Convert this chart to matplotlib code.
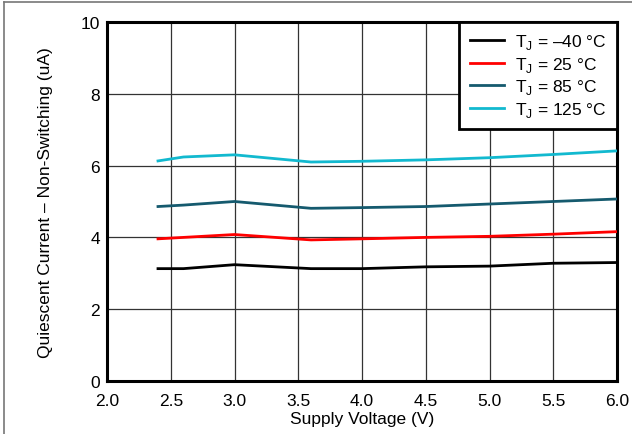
import matplotlib
matplotlib.use("Agg")
import matplotlib.pyplot as plt
from matplotlib.lines import Line2D

plt.rcParams['font.family'] = ['Liberation Sans', 'DejaVu Sans']
plt.rcParams['mathtext.fontset'] = 'custom'
plt.rcParams['mathtext.rm'] = 'Liberation Sans'

voltage = [2.4, 2.6, 3.0, 3.6, 4.0, 4.5, 5.0, 5.5, 6.0]
iq_m40 = [3.13, 3.13, 3.24, 3.13, 3.13, 3.18, 3.20, 3.28, 3.30]
iq_25 = [3.96, 4.00, 4.08, 3.93, 3.96, 4.00, 4.03, 4.09, 4.16]
iq_85 = [4.86, 4.90, 5.00, 4.81, 4.83, 4.86, 4.93, 5.00, 5.07]
iq_125 = [6.13, 6.24, 6.30, 6.10, 6.12, 6.16, 6.22, 6.31, 6.41]

labels = [r'T$_{\mathregular{J}}$ = –40 °C', r'T$_{\mathregular{J}}$ = 25 °C',
          r'T$_{\mathregular{J}}$ = 85 °C', r'T$_{\mathregular{J}}$ = 125 °C']
colors = ['#000000', '#ff0000', '#155a6e', '#12b9cf']
series = [iq_m40, iq_25, iq_85, iq_125]

FS = 12.5
fig = plt.figure(figsize=(6.32, 4.35), dpi=100)
ax = fig.add_axes([107/632, 1 - 382/435, (617-107)/632, (382-23)/435])

for y, c, l in zip(series, colors, labels):
    ax.plot(voltage, y, color=c, lw=2, label=l, zorder=3)

ax.set_xlim(2.0, 6.0)
ax.set_ylim(0, 10)
ax.set_xticks([2.0, 2.5, 3.0, 3.5, 4.0, 4.5, 5.0, 5.5, 6.0])
ax.set_xticklabels(['2.0', '2.5', '3.0', '3.5', '4.0', '4.5', '5.0', '5.5', '6.0'])
ax.set_yticks([0, 2, 4, 6, 8, 10])
ax.grid(True, color='#333333', lw=0.9)
ax.tick_params(length=0, labelsize=FS)
ax.tick_params(axis='x', pad=8.5)
ax.tick_params(axis='y', pad=5)
for s in ax.spines.values():
    s.set_linewidth(2.2)
ax.set_xlabel('Supply Voltage (V)', fontsize=FS, va='top')
ax.xaxis.set_label_coords(0.5, (382 - 412) / 359)
ax.set_ylabel('Quiescent Current – Non-Switching (uA)', fontsize=FS, va='center')
ax.yaxis.set_label_coords((46 - 107) / 510, 0.5)

leg = ax.legend(loc='upper right', fontsize=FS, frameon=True, fancybox=False,
                borderaxespad=0, handlelength=2.0, labelspacing=0.2,
                borderpad=0.6, handletextpad=0.6)
leg.get_frame().set_edgecolor('black')
leg.get_frame().set_linewidth(2)
leg.get_frame().set_alpha(1)

fig.add_artist(Line2D([4/632, 4/632], [0, 1 - 2.5/435], transform=fig.transFigure, color='#777777', lw=1.2))
fig.add_artist(Line2D([4/632, 1], [1 - 2.5/435, 1 - 2.5/435], transform=fig.transFigure, color='#777777', lw=1.2))

fig.savefig('out.png', dpi=100)
